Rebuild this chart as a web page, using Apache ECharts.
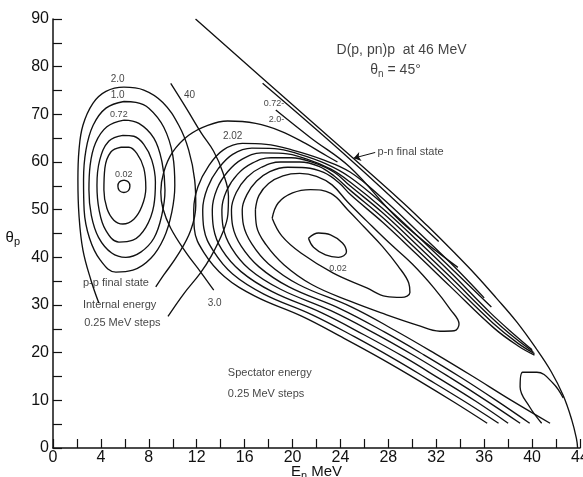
<!DOCTYPE html>
<html>
<head>
<meta charset="utf-8">
<script src="https://cdn.jsdelivr.net/npm/echarts@6/dist/echarts.min.js"></script>
<style>
html, body { margin: 0; padding: 0; background: #fff; }
#chart { width: 583px; height: 477px; }
</style>
</head>
<body>
<div id="chart"></div>
<script>
// axis ranges
var xMax = 44, yMax = 90;

// kinematic boundary and the p-n final state lines
var boundary = [[11.9,90],[20,72],[29,52],[31.3,46.5],[33.5,41],[35.3,36.3],[37,31.5],[38.7,26.5],[40.3,21],[41.6,16],[42.6,11],[43.3,6],[43.7,2],[43.8,0]];
var pnInner = [[17.5,76.5],[25,60.1],[32.2,43.3]];
var pp20Line = [[18.6,70.9],[21.5,65.1],[24.8,58.9],[29,47.6],[33.8,37.9]];

// p-p internal energy contours
var pp002 = [[5.92,56.2],[6.3,55.8],[6.42,54.9],[6.3,54],[5.92,53.6],[5.54,54],[5.42,54.9],[5.54,55.8],[5.92,56.2]];
var ppA = [[5.67,63.1],[4.83,62.1],[4.33,58.7],[4.25,54.1],[4.5,50.3],[5.08,47.8],[5.83,47.0],[6.75,48.0],[7.42,50.7],[7.75,54.5],[7.58,58.7],[7.0,61.8],[6.33,63.1],[5.67,63.1]];
var ppB = [[5.83,65.6],[4.67,64.4],[3.9,60.4],[3.67,55.1],[3.85,49.9],[4.4,45.7],[5.5,43.2],[6.67,43.6],[7.75,46.3],[8.42,50.9],[8.55,55.8],[8.25,60.4],[7.58,63.7],[6.75,65.4],[5.83,65.6]];
var pp072 = [[5.92,68.8],[4.5,67.4],[3.55,64.0],[3.1,59.3],[3.0,54.1],[3.2,48.8],[3.8,44.2],[4.9,40.9],[6.08,40.0],[7.33,41.1],[8.42,44.0],[9.08,48.8],[9.35,54.1],[9.1,60.0],[8.42,65.0],[7.17,68.1],[5.92,68.8]];
var pp10 = [[5.92,72.7],[4.42,71.3],[3.35,67.7],[2.75,62.5],[2.55,56.2],[2.6,49.9],[3.05,44.0],[3.95,39.4],[5.25,36.9],[6.67,37.3],[8.17,39.8],[9.25,44.0],[9.92,49.5],[10.17,55.1],[10.0,61.4],[9.25,67.3],[8.0,71.3],[6.92,72.5],[5.92,72.7]];
var pp20 = [[3.83,30.4],[3.17,35.2],[2.5,41.5],[2.17,48.8],[2.08,56.2],[2.17,62.5],[2.5,67.7],[3.33,72.3],[4.42,74.8],[5.92,75.7],[7.58,75.1],[9.17,72.5],[10.5,67.7],[11.33,62.5],[11.83,56.2],[11.92,50.9],[11.5,45.7],[10.42,40.5],[9.25,36.3],[8.58,33.8]];
var pp40 = [[9.83,76.5],[11.2,71],[12.4,66],[13.4,62.3],[14.2,57.7],[14.65,52.8],[14.6,49],[14.25,45.7],[13.2,40.2],[12.3,36.7],[10.9,32.3],[9.6,27.6]];

// spectator energy contours
var sp30 = [[13.42,33.1],[12.33,36.9],[11.08,41.1],[9.83,46.1],[9.17,50.3],[9.0,53.7],[9.25,57.9],[10.0,62.1],[11.33,65.6],[12.92,67.7],[14.58,68.6],[16.92,68.1],[19.0,66.5],[21.08,63.9],[22.5,61.8],[23.75,60.0]];
var sp002 = [[21.33,44.0],[22.17,45.1],[23.17,44.7],[24.17,43.0],[24.5,41.1],[23.83,40.0],[22.75,40.5],[21.75,42.1],[21.33,44.0]];
var sp2 = [[18.3,48.2],[18.8,51.4],[20,53.5],[21.5,54.2],[23.2,53.4],[24.6,50],[26,46.3],[27.5,42.3],[28.8,38.2],[29.7,34.6],[29.8,32.6],[29.1,31.6],[27.8,31.8],[26.2,33.6],[23.4,36.7],[20.7,40.9],[19.1,44.5],[18.3,48.2]];
var sp3 = [[16.9,50],[17.2,53],[18,55.5],[19.2,57.1],[20.6,57.6],[22,57],[23.3,55.2],[24.6,51.6],[26.2,47.6],[28,43.2],[30,38.6],[31.8,33.6],[33.2,29],[33.9,26],[33.5,24.6],[32.3,24.5],[30.4,25.8],[27.8,28],[24.8,30.8],[21.6,34.3],[19.3,38.4],[17.8,42.6],[17.0,46.5],[16.9,50]];
var sp4 = [[41.5,5.2],[38.2,10.1],[35,15.1],[31.9,19.8],[28.6,24.6],[24.9,29.6],[20.5,34.3],[18,38.6],[16.6,42.8],[15.9,46.8],[15.8,50],[16.2,53.2],[17,56],[18.1,58],[19.6,58.9],[21.1,58.8],[22.6,57.8],[23.8,55.8],[24.9,53],[27.5,47.4],[30.3,40.8],[33.2,33.8],[36.8,25.2],[38.9,21.3],[40.2,19.5]];
var sp5 = [[39.8,5.2],[37,10],[34,14.9],[31,19.5],[27.7,24.3],[24,29.2],[19.7,33.8],[17.2,38],[15.7,42.4],[15,46.6],[14.9,50],[15.3,53.6],[16.2,56.8],[17.4,58.9],[19,60],[20.6,60],[22.2,59.1],[23.5,57],[24.8,54.1],[27.5,48.4],[30.3,41.8],[33.2,34.8],[36.7,26.3],[38.8,22],[40.2,19.8]];
var sp6 = [[39,5.2],[36.2,9.9],[33.2,14.7],[30.2,19.3],[26.9,24],[23.2,28.8],[19,33.3],[16.4,37.5],[14.9,42],[14.2,46.4],[14.1,50],[14.5,54],[15.4,57.4],[16.6,59.7],[18.2,60.9],[19.9,60.9],[21.7,59.9],[23.5,57.8],[24.8,55.0],[27.5,49.4],[30.3,42.8],[33.2,35.8],[36.6,27.4],[38.7,22.8],[40.1,20.2]];
var sp7 = [[38,5.2],[35.3,9.8],[32.3,14.5],[29.3,19.1],[26,23.7],[22.4,28.4],[18.3,32.8],[15.7,37],[14.1,41.6],[13.4,46.2],[13.3,50],[13.7,54.4],[14.6,58],[15.8,60.6],[17.4,61.9],[19.2,61.8],[21.2,60.6],[23.2,58.5],[24.8,55.8],[27.5,50.3],[30.3,43.8],[33.2,36.8],[36.5,28.4],[38.6,23.6],[40,20.6]];
var sp8 = [[37.2,5.2],[34.4,9.7],[31.4,14.3],[28.4,18.8],[25.2,23.3],[21.6,28],[17.6,32.3],[15,36.5],[13.4,41.3],[12.6,46],[12.5,50],[12.9,54.6],[13.8,58.6],[15,61.6],[16.6,62.9],[18.5,62.8],[20.6,61.6],[22.8,59.6],[24.8,56.8],[27.5,51.3],[30.3,44.8],[33.2,37.8],[36.6,29.6]];
var sp9 = [[36.25,5.2],[33.5,9.6],[30.5,14.2],[27.5,18.6],[24.3,23],[20.8,27.6],[16.9,31.8],[14.3,36],[12.6,41],[11.8,46],[11.75,50],[12.1,54.8],[13,59.2],[14.2,62.5],[15.8,63.9],[17.8,63.7],[20,62.5],[22.4,60.6],[24.8,57.9],[27.5,52.4],[30.3,45.8],[33.2,38.8],[36,31.5]];
var spHook = [[40.8,5.2],[39.8,8.6],[39.0,12.8],[39.2,15.9],[40.4,15.9],[41.75,13.6],[42.6,10.5]];

// text notes: x, y, text, align, font size
var notes = [
    [29.1, 83.4, 'D(p, pn)p  at 46 MeV', 'center', 14],
    [28.6, 79.2, '{t|θ}{s|n}{t| = 45°}', 'center', 14],
    [27.1, 62.0, 'p-n final state', 'left', 11],
    [19.3, 72.3, '0.72-', 'right', 9],
    [19.3, 69.0, '2.0-', 'right', 9],
    [11.4, 73.9, '40', 'center', 10],
    [5.4, 77.4, '2.0', 'center', 10],
    [5.4, 74.0, '1.0', 'center', 10],
    [5.5, 69.9, '0.72', 'center', 9],
    [5.9, 57.4, '0.02', 'center', 9],
    [15.0, 65.4, '2.02', 'center', 10],
    [23.8, 37.7, '0.02', 'center', 9],
    [13.5, 30.4, '3.0', 'center', 10],
    [2.5, 34.6, 'p-p final state', 'left', 11],
    [2.5, 30.0, 'Internal energy', 'left', 11],
    [2.6, 26.2, '0.25 MeV steps', 'left', 11],
    [14.6, 15.7, 'Spectator energy', 'left', 11],
    [14.6, 11.3, '0.25 MeV steps', 'left', 11]
];

var ink = '#111';
var font = 'Liberation Sans';

function curve(pts) {
    return {
        type: 'line',
        data: pts,
        smooth: 0.4,
        symbol: 'none',
        silent: true,
        lineStyle: { color: ink, width: 1.35 }
    };
}

var chartDom = document.getElementById('chart');
var myChart = echarts.init(chartDom);

var curves = [boundary, pnInner, pp20Line, pp002, ppA, ppB, pp072, pp10, pp20, pp40,
    sp30, sp002, sp2, sp3, sp4, sp5, sp6, sp7, sp8, sp9, spHook];
var series = curves.map(curve);

// arrow to the p-n final state line
series[1].markLine = {
    silent: true,
    symbol: ['none', 'arrow'],
    symbolSize: 7,
    label: { show: false },
    lineStyle: { color: ink, width: 1, type: 'solid' },
    data: [[{ coord: [26.9, 62.0] }, { coord: [25.1, 60.8] }]]
};

series.push({
    type: 'scatter',
    symbolSize: 0,
    silent: true,
    data: notes.map(function (n) {
        return {
            value: [n[0], n[1]],
            label: {
                show: true,
                position: 'inside',
                formatter: n[2],
                align: n[3],
                verticalAlign: 'middle',
                fontSize: n[4],
                fontFamily: font,
                color: ink,
                rich: {
                    t: { fontSize: n[4], fontFamily: font, color: ink },
                    s: { fontSize: n[4] - 4, fontFamily: font, color: ink, padding: [8, 0, 0, 0] }
                }
            }
        };
    })
});

var option = {
    animation: false,
    backgroundColor: '#fff',
    grid: { left: 53, right: 3, top: 19, bottom: 29, containLabel: false, outerBoundsMode: 'none' },
    xAxis: {
        type: 'value',
        min: 0,
        max: xMax,
        interval: 2,
        splitLine: { show: false },
        axisLine: { lineStyle: { color: ink, width: 1.5 } },
        axisTick: { inside: true, length: 9, lineStyle: { color: ink, width: 1.2 } },
        axisLabel: {
            color: ink, fontSize: 16, fontFamily: font, margin: 2, hideOverlap: false,
            formatter: function (v) { return v % 4 === 0 ? String(v) : ''; }
        },
        name: '{t|E}{s|n}{t| MeV}',
        nameLocation: 'middle',
        nameGap: 14,
        nameMoveOverlap: false,
        nameTextStyle: {
            rich: {
                t: { fontSize: 15, fontFamily: font, color: ink },
                s: { fontSize: 11, fontFamily: font, color: ink, padding: [8, 0, 0, 0] }
            }
        }
    },
    yAxis: {
        type: 'value',
        min: 0,
        max: yMax,
        interval: 5,
        splitLine: { show: false },
        axisLine: { lineStyle: { color: ink, width: 1.5 } },
        axisTick: { inside: true, length: 9, lineStyle: { color: ink, width: 1.2 } },
        axisLabel: {
            color: ink, fontSize: 16, fontFamily: font, margin: 4,
            formatter: function (v) { return v % 10 === 0 ? String(v) : ''; }
        },
        name: '{t|θ}{s|p}',
        nameLocation: 'middle',
        nameRotate: 0,
        nameGap: 33,
        nameMoveOverlap: false,
        nameTextStyle: {
            padding: [8, 0, 0, 0],
            rich: {
                t: { fontSize: 15, fontFamily: font, color: ink },
                s: { fontSize: 11, fontFamily: font, color: ink, padding: [8, 0, 0, 0] }
            }
        }
    },
    series: series
};
myChart.setOption(option);
</script>
</body>
</html>
